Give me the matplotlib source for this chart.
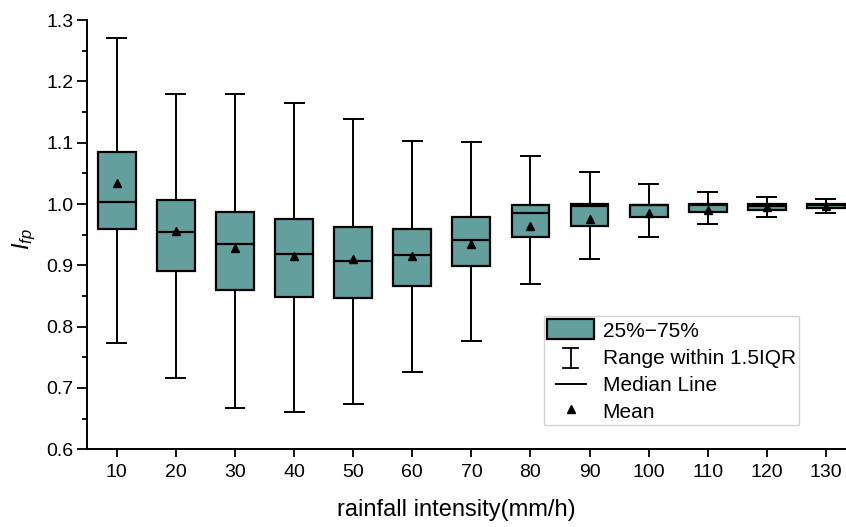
import matplotlib.pyplot as plt
from matplotlib.patches import Patch
from matplotlib.lines import Line2D
from matplotlib.legend_handler import HandlerBase

plt.rcParams['font.family'] = ['Liberation Sans', 'DejaVu Sans']
plt.rcParams['mathtext.fontset'] = 'custom'
plt.rcParams['mathtext.it'] = 'Liberation Sans:italic'
plt.rcParams['mathtext.rm'] = 'Liberation Sans'

# rainfall intensity (mm/h) and box statistics of I_fp
intensity = [10, 20, 30, 40, 50, 60, 70, 80, 90, 100, 110, 120, 130]
whislo = [0.774, 0.717, 0.668, 0.661, 0.674, 0.726, 0.777, 0.870, 0.910, 0.947, 0.967, 0.979, 0.986]
q1 = [0.960, 0.890, 0.859, 0.849, 0.847, 0.867, 0.899, 0.947, 0.964, 0.979, 0.987, 0.991, 0.994]
med = [1.004, 0.955, 0.934, 0.918, 0.907, 0.917, 0.942, 0.985, 0.996, 0.998, 0.998, 0.997, 0.998]
q3 = [1.084, 1.006, 0.987, 0.976, 0.963, 0.960, 0.979, 0.999, 1.000, 0.999, 1.000, 1.000, 1.000]
whishi = [1.270, 1.180, 1.179, 1.165, 1.139, 1.102, 1.101, 1.078, 1.053, 1.032, 1.020, 1.012, 1.008]
mean = [1.034, 0.956, 0.928, 0.915, 0.910, 0.915, 0.935, 0.964, 0.976, 0.985, 0.991, 0.995, 0.997]

box_color = '#639f9d'

stats = []
for i in range(len(intensity)):
    stats.append(dict(whislo=whislo[i], q1=q1[i], med=med[i], q3=q3[i],
                      whishi=whishi[i], mean=mean[i], fliers=[]))

fig = plt.figure(figsize=(8.46, 5.27), dpi=100)
ax = fig.add_axes([0.1032, 0.1474, 0.908, 0.8146])

ax.bxp(stats, positions=intensity, widths=6.4, patch_artist=True,
       showmeans=True, showfliers=False,
       boxprops=dict(facecolor=box_color, edgecolor='black', linewidth=1.6),
       medianprops=dict(color='black', linewidth=1.6),
       whiskerprops=dict(color='black', linewidth=1.4),
       capprops=dict(color='black', linewidth=1.4),
       meanprops=dict(marker='^', markerfacecolor='black', markeredgecolor='black',
                      markersize=5.5),
       capwidths=3.2)

ax.set_xlim(5, 135)
ax.set_ylim(0.6, 1.3)
ax.set_xticks(intensity)
ax.set_xticklabels([str(v) for v in intensity])
ax.set_yticks([0.6, 0.7, 0.8, 0.9, 1.0, 1.1, 1.2, 1.3])
ax.set_yticks([0.65, 0.75, 0.85, 0.95, 1.05, 1.15, 1.25], minor=True)
ax.tick_params(axis='x', which='major', direction='out', length=5.5, width=1.3,
               labelsize=14, pad=5)
ax.tick_params(axis='y', which='major', direction='out', length=7, width=1.3,
               labelsize=14, pad=3)
ax.tick_params(axis='y', which='minor', direction='out', length=3.5, width=1.3)
for s in ['top', 'right']:
    ax.spines[s].set_visible(False)
for s in ['left', 'bottom']:
    ax.spines[s].set_linewidth(1.4)

ax.set_xlabel('rainfall intensity(mm/h)', fontsize=17, labelpad=16)
ax.xaxis.set_label_coords(0.48, -0.115)
ax.set_ylabel('$I_{fp}$', fontsize=17)
ax.yaxis.set_label_coords(-0.064, 0.49)


class WhiskerHandler(HandlerBase):
    # I-shaped symbol for the whisker range
    def create_artists(self, legend, orig_handle, xdescent, ydescent,
                       width, height, fontsize, trans):
        cx = width / 2 - xdescent
        y0 = -ydescent - 0.05 * height
        y1 = -ydescent + 0.95 * height
        w = 0.16 * width
        arts = [Line2D([cx, cx], [y0, y1], color='black', lw=1.3),
                Line2D([cx - w, cx + w], [y0, y0], color='black', lw=1.3),
                Line2D([cx - w, cx + w], [y1, y1], color='black', lw=1.3)]
        for a in arts:
            a.set_transform(trans)
        return arts


class MedianHandler(HandlerBase):
    def create_artists(self, legend, orig_handle, xdescent, ydescent,
                       width, height, fontsize, trans):
        cx = width / 2 - xdescent
        cy = height / 2 - ydescent
        w = 0.32 * width
        ln = Line2D([cx - w, cx + w], [cy, cy], color='black', lw=1.4)
        ln.set_transform(trans)
        return [ln]


whisker_handle = Line2D([], [], color='none')
median_handle = Line2D([], [], color='black', lw=1.4)
handles = [Patch(facecolor=box_color, edgecolor='black', linewidth=1.6),
           whisker_handle,
           median_handle,
           Line2D([], [], color='none', marker='^', markerfacecolor='black',
                  markeredgecolor='black', markersize=5.5)]
labels = ['25%\u221275%', 'Range within 1.5IQR', 'Median Line', 'Mean']
leg = ax.legend(handles, labels, loc='lower left', bbox_to_anchor=(0.5946, 0.0566),
                borderaxespad=0, fontsize=15, fancybox=False, frameon=True,
                handlelength=2.26, handleheight=1.1, handletextpad=0.4,
                labelspacing=0.29, borderpad=0.15,
                handler_map={whisker_handle: WhiskerHandler(),
                             median_handle: MedianHandler()})
leg.get_frame().set_edgecolor('#c8c8c8')
leg.get_frame().set_linewidth(1.0)

fig.savefig('out.png', dpi=100)
